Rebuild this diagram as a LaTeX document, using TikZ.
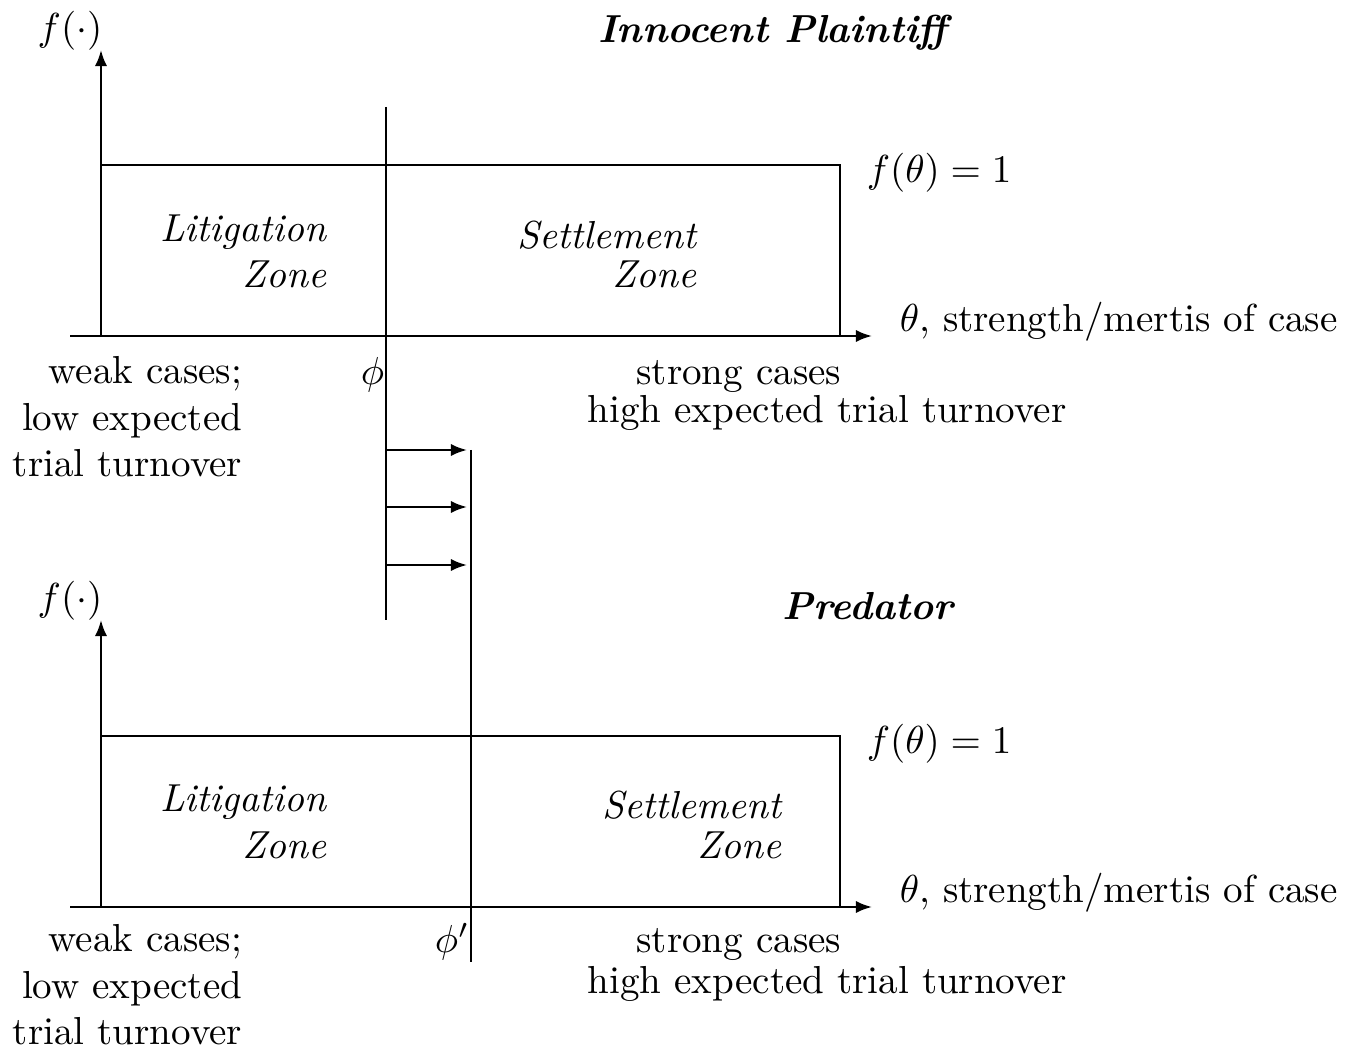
\documentclass[tikz,border=0pt]{standalone}
\usetikzlibrary{arrows.meta}
\tikzstyle{plain} = [line width=0.6pt]
\tikzstyle{axisarrow} = [plain, -{Latex[length=1.45mm,width=1.1mm]}]
\tikzstyle{move} = [plain, -{Latex[length=1.45mm,width=1.1mm]}]
\tikzstyle{lbl} = [inner sep=0pt, anchor=base west]
\tikzstyle{zone} = [inner sep=0pt, anchor=base east, align=right, font=\itshape]
\tikzstyle{cases} = [inner sep=0pt, anchor=base east, align=right]
\tikzstyle{title} = [inner sep=0pt, anchor=base, font=\bfseries\itshape]

\begin{document}
\begin{tikzpicture}[x=0.09mm, y=-0.09mm]
\useasboundingbox (0,0) rectangle (1350,1053);

% innocent plaintiff
\coordinate (O1) at (101,336);
\coordinate (XS1) at (70,336);
\coordinate (XE1) at (872,336);
\coordinate (Y1) at (101,50);
\coordinate (R1) at (840,165);
\coordinate (PHIT) at (386,107);
\coordinate (PHIB) at (386,620);

\draw [axisarrow] (XS1) -- (XE1);
\draw [axisarrow] (O1) -- (Y1);
\draw [plain] (O1 |- R1) -- (R1) -- (R1 |- O1);
\draw [plain] (PHIT) -- (PHIB);

\node (FDOT1) [inner sep=0pt, anchor=base] at (70,41) {$f(\cdot)$};
\node (TITLE1) [title] at (773,43) {Innocent Plaintiff};
\node (FTHETA1) [lbl] at (866,183) {$f(\theta)=1$};
\node (THETA1) [lbl] at (899,332) {$\theta$, strength/mertis of case};
\node (LIT1) [zone] at (327,288) {Litigation\\Zone};
\node (SETTLE1) [zone] at (697,288) {Settlement\\[-0.7mm]Zone};
\node (WEAK1) [cases] at (243,477) {weak cases;\\low expected\\trial turnover};
\node (PHI1) [inner sep=0pt, anchor=base east] at (385,385) {$\phi$};
\node (STRONG1) [cases] at (842,385) {strong cases};
\node (HIGH1) [inner sep=0pt, anchor=base west] at (587,423) {high expected trial turnover};

% shift of the cutoff
\coordinate (PHI2T) at (471,450);
\coordinate (PHI2B) at (471,962);
\draw [plain] (PHI2T) -- (PHI2B);
\foreach \y [count=\i] in {450,507,565} {
  \coordinate (MS\i) at (386,\y);
  \coordinate (ME\i) at (467,\y);
  \draw [move] (MS\i) -- (ME\i);
}

% predator
\coordinate (O2) at (101,907);
\coordinate (XS2) at (70,907);
\coordinate (XE2) at (872,907);
\coordinate (Y2) at (101,620);
\coordinate (R2) at (840,736);

\draw [axisarrow] (XS2) -- (XE2);
\draw [axisarrow] (O2) -- (Y2);
\draw [plain] (O2 |- R2) -- (R2) -- (R2 |- O2);

\node (FDOT2) [inner sep=0pt, anchor=base] at (70,611) {$f(\cdot)$};
\node (TITLE2) [title] at (868,620) {Predator};
\node (FTHETA2) [lbl] at (866,754) {$f(\theta)=1$};
\node (THETA2) [lbl] at (899,903) {$\theta$, strength/mertis of case};
\node (LIT2) [zone] at (327,858) {Litigation\\Zone};
\node (SETTLE2) [zone] at (782,858) {Settlement\\[-0.7mm]Zone};
\node (WEAK2) [cases] at (243,1045) {weak cases;\\low expected\\trial turnover};
\node (PHI2) [inner sep=0pt, anchor=base east] at (470,953) {$\phi'$};
\node (STRONG2) [cases] at (842,953) {strong cases};
\node (HIGH2) [inner sep=0pt, anchor=base west] at (587,993) {high expected trial turnover};

\end{tikzpicture}
\end{document}
